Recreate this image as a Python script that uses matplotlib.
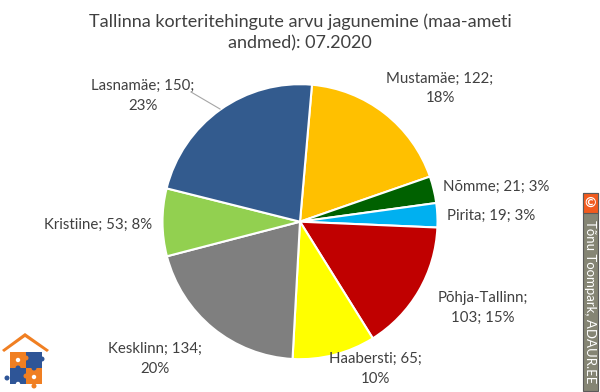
import matplotlib
matplotlib.use("Agg")
import matplotlib.pyplot as plt
from matplotlib.patches import Rectangle, Polygon, Circle
from matplotlib.lines import Line2D

districts = ["Mustamäe", "Nõmme", "Pirita", "Põhja-Tallinn", "Haabersti",
             "Kesklinn", "Kristiine", "Lasnamäe"]
deals = [122, 21, 19, 103, 65, 134, 53, 150]
percents = [18, 3, 3, 15, 10, 20, 8, 23]
colors = ["#FFC000", "#006100", "#00B0F0", "#C00000", "#FFFF00",
          "#7F7F7F", "#92D050", "#335B8E"]
title = "Tallinna korteritehingute arvu jagunemine (maa-ameti\nandmed): 07.2020"
credit = "Tõnu Toompark, ADAUR.EE"

W, H = 600, 392
fig = plt.figure(figsize=(W / 100, H / 100), dpi=100)
fig.patch.set_facecolor("white")
plt.rcParams["font.family"] = ["Lato", "DejaVu Sans"]

def fx(x):
    return x / W

def fy(y):
    return 1 - y / H

# pie axes
cx, cy, r = 300, 221.7, 137.5
ax = fig.add_axes([fx(cx - r), fy(cy + r), 2 * r / W, 2 * r / H])
ax.pie(deals, colors=colors, startangle=85, counterclock=False, radius=1,
       wedgeprops=dict(edgecolor="white", linewidth=1.5))
ax.set_xlim(-1, 1)
ax.set_ylim(-1, 1)
ax.set_aspect("auto")
ax.axis("off")

fig.text(0.5, fy(32), title, ha="center", va="center", fontsize=13,
         color="#404040", linespacing=1.4)

txt_color = "#404040"
# label layout: (x, y, ha, break mode) ; 0 = one line, 1 = break before %, 2 = break after name
layout = [
    (440, 88.5, "center", 1),
    (443, 187, "left", 0),
    (447, 216, "left", 0),
    (483, 308, "center", 2),
    (375, 369, "center", 1),
    (155, 359, "center", 1),
    (152, 225, "right", 0),
    (143, 96, "center", 1),
]
for name, val, pct, (x, y, ha, mode) in zip(districts, deals, percents, layout):
    if mode == 0:
        s = f"{name}; {val}; {pct}%"
    elif mode == 1:
        s = f"{name}; {val};\n{pct}%"
    else:
        s = f"{name};\n{val}; {pct}%"
    fig.text(fx(x), fy(y), s, ha=ha, va="center", fontsize=10.8,
             color=txt_color, linespacing=1.5, multialignment="center")

# leader line for Lasnamäe
fig.add_artist(Line2D([fx(191), fx(220)], [fy(92), fy(109)], color="#A6A6A6",
                      linewidth=0.8))

# credit box
fig.add_artist(Rectangle((fx(583), fy(391)), 15 / W, 198 / H,
                         facecolor="#858574", edgecolor="#5A5A5A", linewidth=0.8))
fig.add_artist(Rectangle((fx(583), fy(213)), 15 / W, 20 / H,
                         facecolor="#F25A1D", edgecolor="#5A5A5A", linewidth=0.8))
fig.text(fx(590.5), fy(203), "©", ha="center", va="center", fontsize=10,
         color="white", fontweight="bold")
fig.text(fx(590.5), fy(302), credit, ha="center", va="center", fontsize=9.5,
         color="white", rotation=-90)

# logo
lax = fig.add_axes([0, 0, 1, 1], facecolor="none")
lax.set_xlim(0, W)
lax.set_ylim(H, 0)
lax.axis("off")
lax.add_patch(Polygon([(2, 350), (25, 333), (49, 350), (47, 352), (25, 337), (4, 352)],
                      closed=True, facecolor="#F07F22", edgecolor="none"))
sq = [(10, 352, "#F07F22"), (26, 352, "#2E5597"), (10, 368, "#2E5597"), (26, 368, "#F07F22")]
for x0, y0, c in sq:
    lax.add_patch(Rectangle((x0, y0), 16, 16, facecolor=c, edgecolor="none"))
for (x0, y0, c) in [(26, 358, "#F07F22"), (18, 368, "#2E5597"), (34, 368, "#2E5597"),
                    (42, 359, "#2E5597"), (7, 378, "#2E5597"), (26, 376, "#F07F22"),
                    (34, 386, "#F07F22")]:
    lax.add_patch(Circle((x0, y0), 2.5, facecolor=c, edgecolor="none"))
for (x0, y0) in [(18, 360), (34, 377), (18, 384)]:
    lax.add_patch(Circle((x0, y0), 2.2, facecolor="white", edgecolor="none"))

fig.savefig("out.png", dpi=100, facecolor="white")
